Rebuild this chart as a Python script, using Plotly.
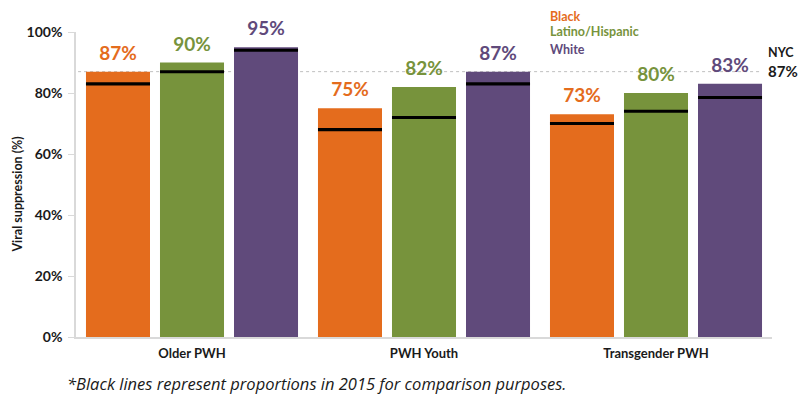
import plotly.graph_objects as go

categories = ["Older PWH", "PWH Youth", "Transgender PWH"]
groups = ["Black", "Latino/Hispanic", "White"]
values_2020 = {
    "Black": [87, 75, 73],
    "Latino/Hispanic": [90, 82, 80],
    "White": [95, 87, 83],
}
values_2015 = {
    "Black": [83, 68, 70],
    "Latino/Hispanic": [87, 72, 74],
    "White": [94, 83, 78.5],
}
nyc_value = 87
y_ticks = [0, 20, 40, 60, 80, 100]
y_tick_labels = ["0%", "20%", "40%", "60%", "80%", "100%"]
footnote = "*Black lines represent proportions in 2015 for comparison purposes."

colors = {"Black": "#E46C1D", "Latino/Hispanic": "#77933C", "White": "#604A7B"}
FONT = "Lato"

fig = go.Figure()

# main bars
for g in groups:
    fig.add_trace(go.Bar(
        x=categories, y=values_2020[g], name=g, offsetgroup=g,
        marker=dict(color=colors[g], line=dict(width=0)),
        showlegend=False, hoverinfo="x+y",
    ))

# value labels (transparent spacer bars carrying outside text)
for g in groups:
    fig.add_trace(go.Bar(
        x=categories, y=[1.6] * len(categories), base=values_2020[g],
        offsetgroup=g, marker=dict(color="rgba(0,0,0,0)", line=dict(width=0)),
        text=[f"<b>{v}%</b>" for v in values_2020[g]], textposition="outside",
        textfont=dict(family=FONT, size=19, color=colors[g]),
        cliponaxis=False, constraintext="none",
        showlegend=False, hoverinfo="skip",
    ))

# 2015 comparison lines
for g in groups:
    fig.add_trace(go.Bar(
        x=categories, y=[1.0] * len(categories),
        base=[v - 0.5 for v in values_2015[g]],
        offsetgroup=g, marker=dict(color="#000000", line=dict(width=0)),
        showlegend=False, hoverinfo="skip",
    ))

fig.add_shape(type="line", xref="x domain", yref="y", x0=0.003, x1=0.985,
              y0=nyc_value, y1=nyc_value, layer="below",
              line=dict(color="#BFBFBF", width=1, dash="dot"))

annotations = []
legend_y = [1.052, 1.003, 0.943]
for g, ly in zip(groups, legend_y):
    annotations.append(dict(text=f"<b>{g}</b>", x=0.678, y=ly, xref="paper", yref="paper",
                            xanchor="left", yanchor="middle", showarrow=False,
                            font=dict(family=FONT, size=12.5, color=colors[g])))
annotations.append(dict(text="<b>NYC</b>", x=1.0, y=nyc_value + 6.2, xref="paper", yref="y",
                        xanchor="left", yanchor="middle", showarrow=False, xshift=-6,
                        font=dict(family=FONT, size=12.5, color="#1a1a1a")))
annotations.append(dict(text=f"<b>{nyc_value}%</b>", x=1.0, y=nyc_value + 0.2, xref="paper", yref="y",
                        xanchor="left", yanchor="middle", showarrow=False, xshift=-6,
                        font=dict(family=FONT, size=15, color="#1a1a1a")))
annotations.append(dict(text="<b>Viral suppression (%)</b>", textangle=-90,
                        x=-0.0843, y=0.468, xref="paper", yref="paper",
                        xanchor="center", yanchor="middle", showarrow=False,
                        font=dict(family=FONT, size=12.5, color="#1a1a1a")))
annotations.append(dict(text=f"<i>{footnote}</i>", x=-0.016, y=-0.152, xref="paper", yref="paper",
                        xanchor="left", yanchor="middle", showarrow=False,
                        font=dict(family="Open Sans", size=16.5, color="#1a1a1a")))

fig.update_layout(
    width=798, height=397,
    margin=dict(l=76, r=26, t=32, b=60),
    paper_bgcolor="white", plot_bgcolor="white",
    barmode="group", bargap=0.043, bargroupgap=0.135,
    showlegend=False,
    annotations=annotations,
    font=dict(family=FONT, color="#1a1a1a"),
    xaxis=dict(showline=True, linecolor="#D9D9D9", linewidth=1.5, ticks="",
               tickfont=dict(family=FONT, size=13, color="#1a1a1a"),
               tickprefix="<b>", ticksuffix="</b>", showgrid=False, zeroline=False,
               ticklabelstandoff=4),
    yaxis=dict(range=[0, 100], tickvals=y_ticks, ticktext=[f"<b>{t}</b>" for t in y_tick_labels],
               showline=True, linecolor="#D9D9D9", linewidth=1.5, ticks="outside",
               ticklen=6, tickcolor="#D9D9D9", showgrid=False, zeroline=False,
               tickfont=dict(family=FONT, size=14, color="#1a1a1a"), ticklabelstandoff=3),
)

fig.write_html("out.html")
